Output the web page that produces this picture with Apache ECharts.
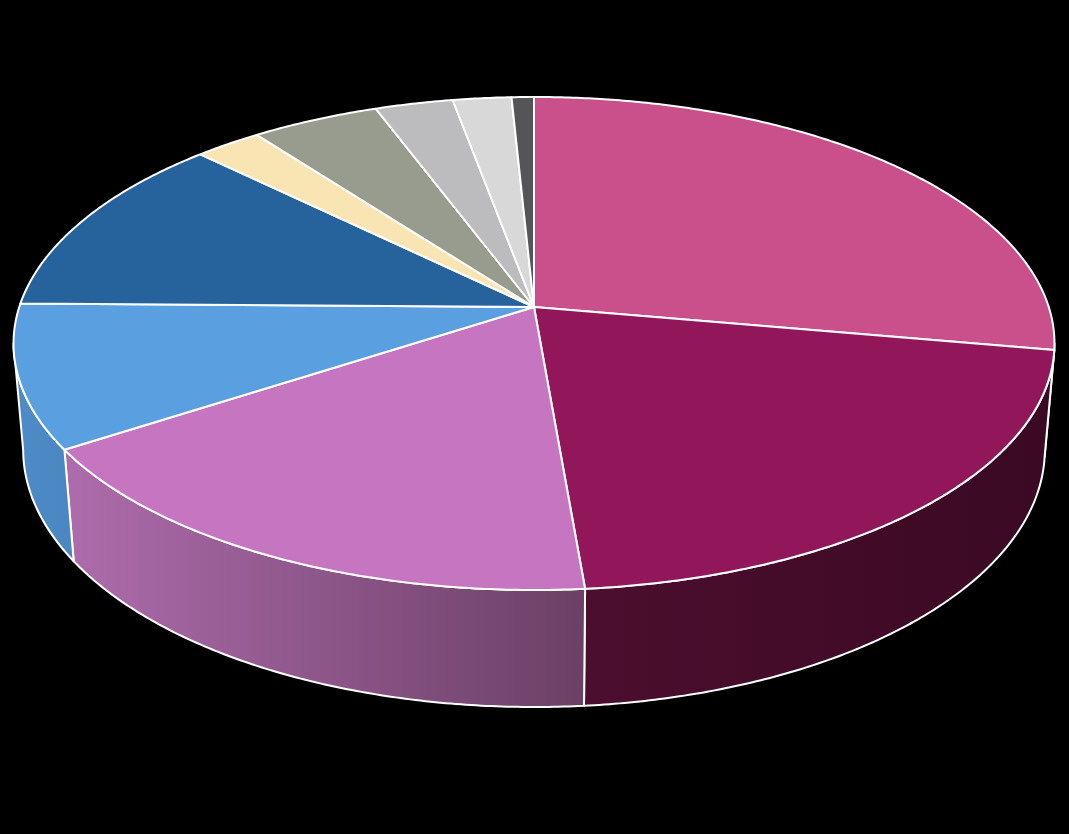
<!DOCTYPE html>
<html><head><meta charset="utf-8">
<script src="https://cdn.jsdelivr.net/npm/echarts@6/dist/echarts.min.js"></script>
<style>html,body{margin:0;padding:0;background:#000;}#c{width:1069px;height:834px;}</style>
</head><body><div id="c"></div>
<script>
// ---- data ----
const categories = ['Slice 1','Slice 2','Slice 3','Slice 4','Slice 5','Slice 6','Slice 7','Slice 8','Slice 9','Slice 10'];
const values = [27.8, 20.9, 17.2, 9.4, 12.1, 2.4, 4.6, 2.8, 2.1, 0.8];
const topColors = ['#C9508B','#92175A','#C675C0','#5AA0E0','#26639C','#F9E5B3','#979C8E','#BCBCBE','#D8D8D8','#555557'];
const wallColors = [['#6A1C44','#5A1539'],['#4C0E2E','#3A0923'],['#AE6CAC','#6B4066'],['#4E8CC8','#4A86C0'],['#1A4670','#1A4670'],['#B0A27E','#B0A27E'],['#6C7066','#6C7066'],['#86868A','#86868A'],['#9A9A9A','#9A9A9A'],['#3A3A3C','#3A3A3C']];

// ---- 3D projection setup ----
const CX = 534, CY = 307;
const sinA = 0.4684, cosA = Math.sqrt(1 - sinA * sinA);
const D = 5.97, F = 3073, H = 0.2355;
function proj(x, y, z) {
  const Yc = y * cosA + z * sinA;
  const Zc = D + z * cosA - y * sinA;
  return [CX + F * x / Zc, CY - F * Yc / Zc];
}
function rim(t, y) { return proj(Math.sin(t), y, Math.cos(t)); }
const k = cosA / D;
const tv1 = Math.acos(-k), tv2 = 2 * Math.PI - Math.acos(-k);
const total = values.reduce((a, b) => a + b, 0);
const starts = [];
values.reduce((acc, v, i) => { starts[i] = acc; return acc + v; }, 0);

function arc(a0, a1, y) {
  const pts = [];
  const n = Math.max(2, Math.ceil((a1 - a0) / (Math.PI / 360)));
  for (let j = 0; j <= n; j++) pts.push(rim(a0 + (a1 - a0) * j / n, y));
  return pts;
}

function renderItem(params, api) {
  const i = params.dataIndex;
  const a0 = starts[i] / total * 2 * Math.PI;
  const a1 = a0 + api.value(0) / total * 2 * Math.PI;
  const children = [];
  const v0 = Math.max(a0, tv1), v1 = Math.min(a1, tv2);
  if (v1 > v0) {
    const pts = arc(v0, v1, 0).concat(arc(v0, v1, -H).reverse());
    children.push({
      type: 'polygon', z2: 1,
      shape: { points: pts },
      style: {
        fill: new echarts.graphic.LinearGradient(0, 0, 1, 0, [
          { offset: 0, color: wallColors[i][0] }, { offset: 1, color: wallColors[i][1] }]),
        stroke: '#fff', lineWidth: 2, lineJoin: 'round'
      }
    });
  }
  const top = [proj(0, 0, 0)].concat(arc(a0, a1, 0));
  children.push({
    type: 'polygon', z2: 10,
    shape: { points: top },
    style: { fill: topColors[i], stroke: '#fff', lineWidth: 2, lineJoin: 'round' }
  });
  return { type: 'group', children };
}

const chart = echarts.init(document.getElementById('c'), null, { renderer: 'canvas' });
chart.setOption({
  backgroundColor: '#000',
  animation: false,
  series: [{
    type: 'custom',
    coordinateSystem: 'none',
    silent: true,
    renderItem: renderItem,
    data: values.map((v, i) => ({ name: categories[i], value: [v] }))
  }]
});
</script></body></html>
